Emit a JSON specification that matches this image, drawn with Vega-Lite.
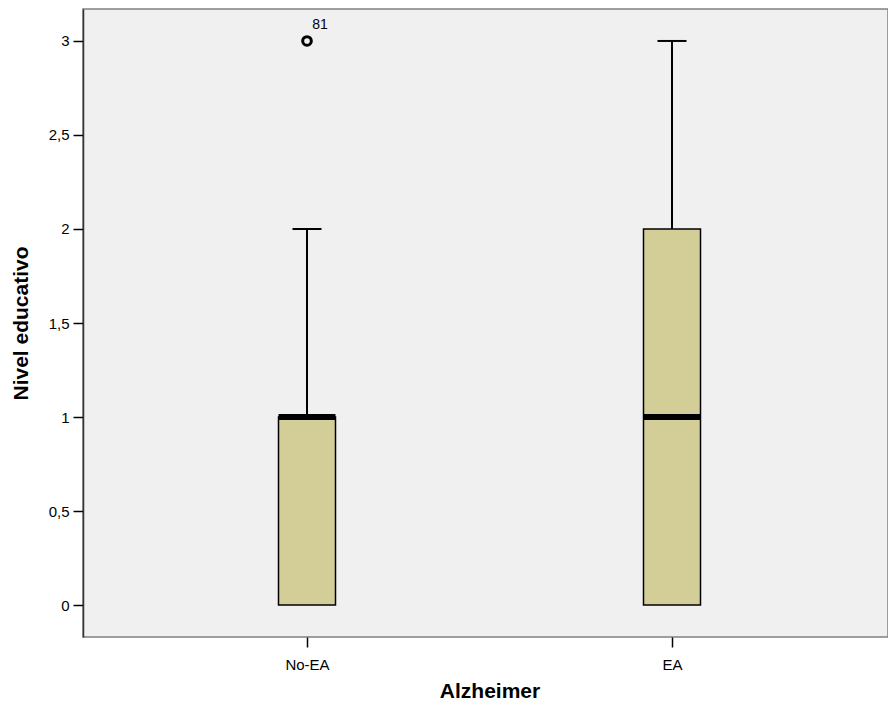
{
  "$schema": "https://vega.github.io/schema/vega-lite/v6.json",
  "autosize": "none",
  "width": 805,
  "height": 628,
  "padding": {"left": 83, "top": 9, "right": 0, "bottom": 72},
  "background": "white",
  "config": {
    "view": {"fill": "#F0F0F0", "stroke": "#808080", "strokeWidth": 1.5},
    "font": "Liberation Sans"
  },
  "datasets": {
    "boxes": [
      {"grupo": "No-EA", "q1": 0, "median": 1, "q3": 1, "lower": 0, "upper": 2},
      {"grupo": "EA", "q1": 0, "median": 1, "q3": 2, "lower": 0, "upper": 3}
    ],
    "outliers": [
      {"grupo": "No-EA", "valor": 3, "caso": "81"}
    ]
  },
  "encoding": {
    "x": {
      "field": "grupo",
      "type": "nominal",
      "sort": ["No-EA", "EA"],
      "scale": {"type": "point", "domain": ["No-EA", "EA"], "range": [224, 589], "padding": 0},
      "axis": {
        "title": "Alzheimer",
        "titleFont": "Liberation Sans",
        "titleFontSize": 21,
        "titleFontWeight": "bold",
        "titleColor": "black",
        "titlePadding": 8,
        "labelFont": "Liberation Sans",
        "labelFontSize": 15,
        "labelColor": "black",
        "labelAngle": 0,
        "labelPadding": 10,
        "tickColor": "black",
        "tickSize": 10,
        "tickWidth": 1.5,
        "domain": false,
        "grid": false
      }
    }
  },
  "layer": [
    {
      "data": {"name": "boxes"},
      "mark": {"type": "rule", "color": "black", "strokeWidth": 2},
      "encoding": {
        "y": {
          "field": "q3",
          "type": "quantitative",
          "scale": {"domain": [-0.17, 3.17], "nice": false, "zero": false},
          "axis": {
            "title": "Nivel educativo",
            "titleFont": "Liberation Sans",
            "titleFontSize": 21,
            "titleFontWeight": "bold",
            "titleColor": "black",
            "titlePadding": 17,
            "labelFont": "Liberation Sans",
            "labelFontSize": 15,
            "labelColor": "black",
            "labelPadding": 4,
            "values": [0, 0.5, 1, 1.5, 2, 2.5, 3],
            "labelExpr": "replace(format(datum.value, '~g'), '.', ',')",
            "tickColor": "black",
            "tickSize": 10,
            "tickWidth": 1.5,
            "domainColor": "#333333",
            "domainWidth": 1.5,
            "grid": false
          }
        },
        "y2": {"field": "upper"}
      }
    },
    {
      "data": {"name": "boxes"},
      "mark": {"type": "tick", "color": "black", "opacity": 1, "size": 29, "thickness": 2, "orient": "horizontal"},
      "encoding": {
        "y": {"field": "upper", "type": "quantitative"}
      }
    },
    {
      "data": {"name": "boxes"},
      "mark": {"type": "bar", "size": 57, "fill": "#D3CE97", "stroke": "black", "strokeWidth": 1.5, "opacity": 1},
      "encoding": {
        "y": {"field": "q1", "type": "quantitative"},
        "y2": {"field": "q3"}
      }
    },
    {
      "data": {"name": "boxes"},
      "mark": {"type": "tick", "color": "black", "opacity": 1, "size": 57, "thickness": 6, "orient": "horizontal"},
      "encoding": {
        "y": {"field": "median", "type": "quantitative"}
      }
    },
    {
      "data": {"name": "outliers"},
      "mark": {"type": "point", "shape": "circle", "filled": false, "stroke": "black", "strokeWidth": 3, "size": 75, "opacity": 1},
      "encoding": {
        "y": {"field": "valor", "type": "quantitative"}
      }
    },
    {
      "data": {"name": "outliers"},
      "mark": {"type": "text", "dx": 13, "dy": -16, "fontSize": 14, "font": "Liberation Sans", "color": "black"},
      "encoding": {
        "y": {"field": "valor", "type": "quantitative"},
        "text": {"field": "caso"}
      }
    }
  ]
}
